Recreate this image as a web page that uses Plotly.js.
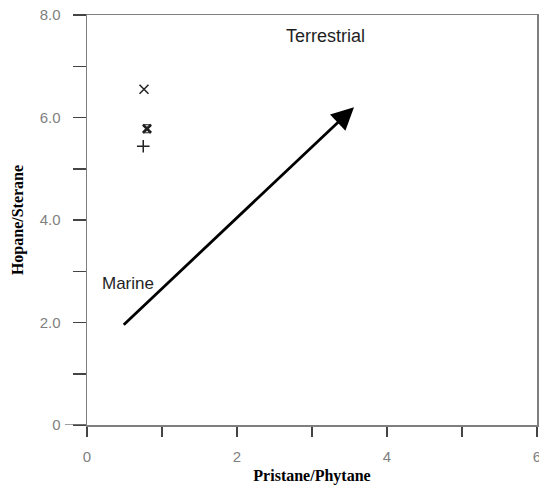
<!DOCTYPE html>
<html>
<head>
<meta charset="utf-8">
<script src="https://cdn.plot.ly/plotly-3.0.1.min.js"></script>
<style>html,body{margin:0;padding:0;background:#fff;}#chart{width:539px;height:485px;}</style>
</head>
<body>
<div id="chart"></div>
<script>
// Samples (Pristane/Phytane, Hopane/Sterane)
const sampleNames = ["Sample A", "Sample B", "Sample C"];
const prPh = [0.76, 0.80, 0.75];
const hopSter = [6.55, 5.78, 5.44];
const symbols = ["x-thin-open", "x-thin-open", "cross-thin-open"];

// Trend arrow (Marine -> Terrestrial)
const arrowFrom = [0.47, 1.93];
const arrowTo = [3.56, 6.20];

// Field labels
const fieldLabels = ["Terrestrial", "Marine"];
const fieldX = [3.18, 0.545];
const fieldY = [7.59, 2.77];

// Ticks
const xTickVals = [0, 1, 2, 3, 4, 5, 6];
const xTickText = ["0", "", "2", "", "4", "", "6"];
const yTickVals = [0, 1, 2, 3, 4, 5, 6, 7, 8];
const yTickText = ["0", "", "2.0", "", "4.0", "", "6.0", "", "8.0"];

const traces = prPh.map((x, i) => ({
  type: "scatter",
  mode: "markers",
  name: sampleNames[i],
  x: [x],
  y: [hopSter[i]],
  marker: {
    symbol: symbols[i],
    size: i === 1 ? 8 : 9,
    color: "#222",
    line: {color: "#222", width: i === 1 ? 2.6 : 1.5}
  },
  cliponaxis: false,
  showlegend: false
}));
// extra overlay for the bold star-like middle marker
traces.push({
  type: "scatter", mode: "markers",
  x: [prPh[1]], y: [hopSter[1]],
  marker: {symbol: "hourglass-open", size: 8, color: "#222", line: {color: "#222", width: 1.2}},
  showlegend: false
});

const axisGray = "#7f7f7f";
const annotations = fieldLabels.map((t, i) => ({
  x: fieldX[i], y: fieldY[i], xref: "x", yref: "y",
  text: t, showarrow: false,
  font: {family: "Liberation Sans, Arial, sans-serif", size: i === 0 ? 18 : 17, color: "#1f1f1f"}
}));
annotations.push({
  x: arrowTo[0], y: arrowTo[1], xref: "x", yref: "y",
  ax: arrowFrom[0], ay: arrowFrom[1], axref: "x", ayref: "y",
  text: "", showarrow: true,
  arrowhead: 2, arrowsize: 1.6, arrowwidth: 2.8, arrowcolor: "#000"
});

const layout = {
  width: 539, height: 485,
  margin: {l: 87, r: 2, t: 15, b: 60},
  paper_bgcolor: "#fff", plot_bgcolor: "#fff",
  showlegend: false,
  xaxis: {
    range: [0, 6], tickmode: "array", tickvals: xTickVals, ticktext: xTickText,
    ticks: "outside", ticklen: 10, tickwidth: 1.5, tickcolor: "#444",
    showline: true, linecolor: axisGray, linewidth: 1.5, mirror: true,
    showgrid: false, zeroline: false, automargin: false,
    ticklabelstandoff: 7, ticklabeloverflow: "allow",
    tickfont: {family: "Liberation Sans, Arial, sans-serif", size: 15, color: axisGray},
    title: {text: "Pristane/Phytane", standoff: 6,
      font: {family: "Liberation Serif, Times New Roman, serif", size: 16, color: "#000", weight: "bold"}}
  },
  yaxis: {
    range: [0, 8], tickmode: "array", tickvals: yTickVals, ticktext: yTickText,
    ticks: "outside", ticklen: 13, tickwidth: 1.5, tickcolor: "#444",
    showline: true, linecolor: axisGray, linewidth: 1.5, mirror: true,
    showgrid: false, zeroline: false, automargin: false,
    ticklabelstandoff: 9,
    tickfont: {family: "Liberation Sans, Arial, sans-serif", size: 15, color: axisGray},
    title: {text: "Hopane/Sterane", standoff: 12,
      font: {family: "Liberation Serif, Times New Roman, serif", size: 16, color: "#000", weight: "bold"}}
  },
  annotations: annotations,
  shapes: [{
    type: "line", xref: "paper", yref: "y",
    x0: -0.049, x1: 0, y0: 0, y1: 0,
    line: {color: axisGray, width: 1.5}
  }]
};

Plotly.newPlot("chart", traces, layout, {displayModeBar: false, staticPlot: true});
</script>
</body>
</html>
